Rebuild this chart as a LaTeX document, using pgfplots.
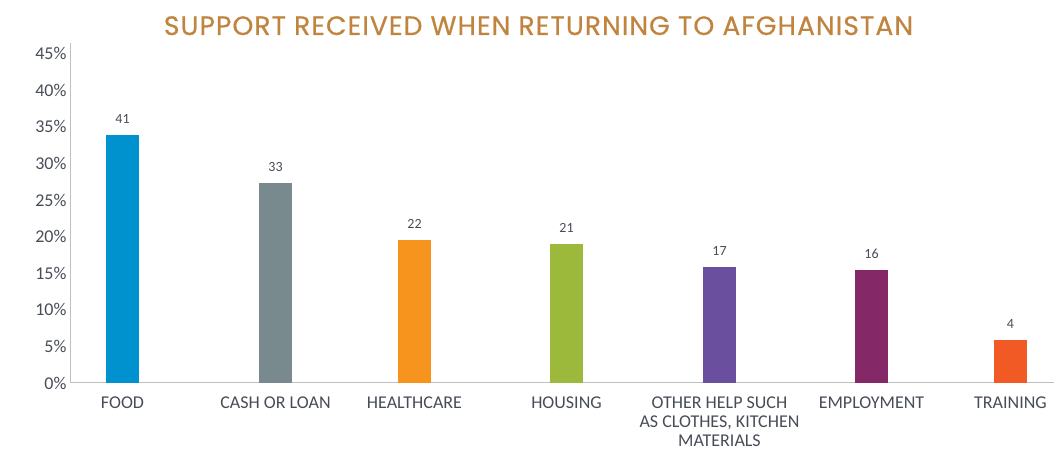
\documentclass[border=0pt]{standalone}
\usepackage{pgfplots}
\pgfplotsset{compat=1.18}
\usepackage{fontspec}
\setmainfont{Carlito}
\newfontfamily\titlefont[LetterSpace=4,FakeBold=0.6]{Poppins}
\definecolor{cFood}{HTML}{0091CF}
\definecolor{cCash}{HTML}{788A8E}
\definecolor{cHealth}{HTML}{F7941E}
\definecolor{cHousing}{HTML}{9DB93B}
\definecolor{cOther}{HTML}{6A4F9E}
\definecolor{cEmploy}{HTML}{842868}
\definecolor{cTrain}{HTML}{F15A24}
\definecolor{cTitle}{HTML}{C0843F}
\definecolor{cTick}{HTML}{474C57}
\definecolor{cAxis}{HTML}{BFBFBF}
\begin{document}
\begin{tikzpicture}[x=1pt,y=1pt]
\path[use as bounding box] (0,0) rectangle (1054,449);
\node[anchor=base, text=cTitle, inner sep=0pt] at (538.5,414)
  {\resizebox{749pt}{!}{\titlefont SUPPORT RECEIVED WHEN RETURNING TO AFGHANISTAN}};
\begin{axis}[
  at={(70pt,66pt)}, anchor=south west,
  scale only axis,
  width=984pt, height=340pt,
  xmin=70, xmax=1054,
  ymin=0, ymax=46.45,
  axis x line*=bottom, axis y line*=left,
  axis line style={cAxis, line width=1pt, -},
  ytick={0,5,...,45},
  yticklabel={\pgfmathprintnumber{\tick}\%},
  /pgf/number format/assume math mode=true,
  yticklabel style={font=\fontsize{18}{19}\selectfont, text=cTick},
  xtick={122.5,275.5,414.5,566.5,719.5,871.5,1010.5},
  xticklabels={FOOD, CASH OR LOAN, HEALTHCARE, HOUSING, {OTHER HELP SUCH\\AS CLOTHES, KITCHEN\\MATERIALS}, EMPLOYMENT, TRAINING},
  xticklabel style={font=\fontsize{18}{19}\selectfont, text=cTick, align=center, yshift=-10pt},
  major tick length=0pt,
  ybar, bar width=33pt, bar shift=0pt,
  point meta=explicit symbolic,
  nodes near coords,
  nodes near coords style={font=\fontsize{14}{16}\selectfont, text=cTick, anchor=south, yshift=8pt},
  clip=false,
]
\addplot[fill=cFood, draw=none] coordinates {(122.5,33.84) [41]};
\addplot[fill=cCash, draw=none] coordinates {(275.5,27.28) [33]};
\addplot[fill=cHealth, draw=none] coordinates {(414.5,19.5) [22]};
\addplot[fill=cHousing, draw=none] coordinates {(566.5,18.95) [21]};
\addplot[fill=cOther, draw=none] coordinates {(719.5,15.8) [17]};
\addplot[fill=cEmploy, draw=none] coordinates {(871.5,15.4) [16]};
\addplot[fill=cTrain, draw=none] coordinates {(1010.5,5.83) [4]};
\end{axis}
\end{tikzpicture}
\end{document}
